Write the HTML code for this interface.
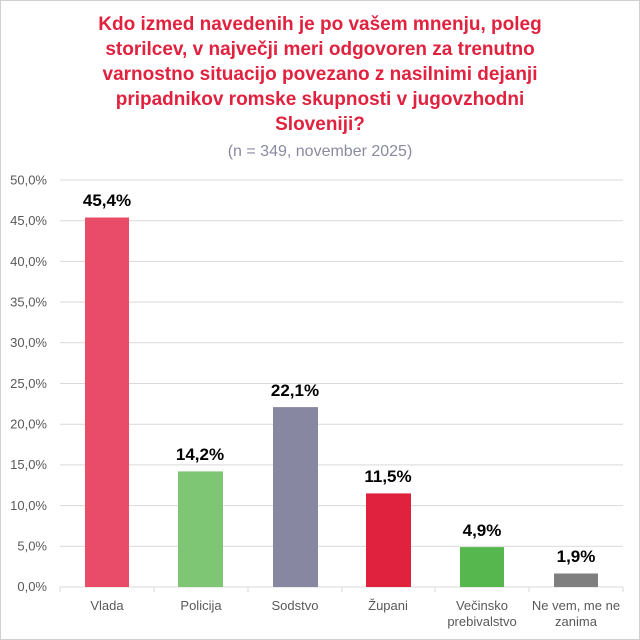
<!DOCTYPE html><html><head><style>body{margin:0}svg{display:block}</style></head><body>
<svg width="640" height="640" xmlns="http://www.w3.org/2000/svg" font-family="Liberation Sans, Arial, sans-serif">
<rect x="0.5" y="0.5" width="639" height="639" fill="#fff" stroke="#d0d0d0"/>
<g font-weight="bold" font-size="19" fill="#e0223f" text-anchor="middle">
<text x="320" y="30">Kdo izmed navedenih je po vašem mnenju, poleg</text>
<text x="320" y="55">storilcev, v največji meri odgovoren za trenutno</text>
<text x="320" y="80">varnostno situacijo povezano z nasilnimi dejanji</text>
<text x="320" y="105">pripadnikov romske skupnosti v jugovzhodni</text>
<text x="320" y="130">Sloveniji?</text></g>
<text x="320" y="156" font-size="16" fill="#8a8aa0" text-anchor="middle">(n = 349, november 2025)</text>
<g stroke="#d9d9d9" stroke-width="1">
<line x1="60" x2="623" y1="180" y2="180"/><line x1="60" x2="623" y1="220.7" y2="220.7"/><line x1="60" x2="623" y1="261.4" y2="261.4"/><line x1="60" x2="623" y1="302.1" y2="302.1"/><line x1="60" x2="623" y1="342.8" y2="342.8"/><line x1="60" x2="623" y1="383.5" y2="383.5"/><line x1="60" x2="623" y1="424.2" y2="424.2"/><line x1="60" x2="623" y1="464.9" y2="464.9"/><line x1="60" x2="623" y1="505.6" y2="505.6"/><line x1="60" x2="623" y1="546.3" y2="546.3"/><line x1="60" x2="623" y1="587" y2="587"/>
<line x1="60" x2="60" y1="587" y2="592"/><line x1="154" x2="154" y1="587" y2="592"/><line x1="248" x2="248" y1="587" y2="592"/><line x1="342" x2="342" y1="587" y2="592"/><line x1="435" x2="435" y1="587" y2="592"/><line x1="529" x2="529" y1="587" y2="592"/><line x1="623" x2="623" y1="587" y2="592"/></g>
<g font-size="13" fill="#595959" text-anchor="end">
<text x="47" y="184.5">50,0%</text><text x="47" y="225">45,0%</text><text x="47" y="266">40,0%</text><text x="47" y="306.5">35,0%</text><text x="47" y="347">30,0%</text><text x="47" y="388">25,0%</text><text x="47" y="428.5">20,0%</text><text x="47" y="469">15,0%</text><text x="47" y="510">10,0%</text><text x="47" y="550.5">5,0%</text><text x="47" y="591">0,0%</text></g>
<rect x="85" y="217.5" width="44" height="369.5" fill="#e84c68"/>
<rect x="178" y="471.4" width="45" height="115.6" fill="#7ec674"/>
<rect x="273" y="407.1" width="45" height="179.9" fill="#8787a1"/>
<rect x="366" y="493.4" width="45" height="93.6" fill="#e0223f"/>
<rect x="460" y="547.1" width="44" height="39.9" fill="#56b74f"/>
<rect x="554" y="573.5" width="44" height="13.5" fill="#7f7f7f"/>
<g font-size="17" font-weight="bold" fill="#000" text-anchor="middle">
<text x="107" y="206">45,4%</text><text x="200" y="460">14,2%</text><text x="295" y="396">22,1%</text><text x="388" y="482">11,5%</text><text x="482" y="536">4,9%</text><text x="576" y="562">1,9%</text></g>
<g font-size="13" fill="#595959" text-anchor="middle">
<text x="107" y="610">Vlada</text><text x="201" y="610">Policija</text><text x="295" y="610">Sodstvo</text><text x="388" y="610">Župani</text>
<text x="482" y="610">Večinsko</text><text x="482" y="626">prebivalstvo</text>
<text x="576" y="610">Ne vem, me ne</text><text x="576" y="626">zanima</text></g>
</svg></body></html>
